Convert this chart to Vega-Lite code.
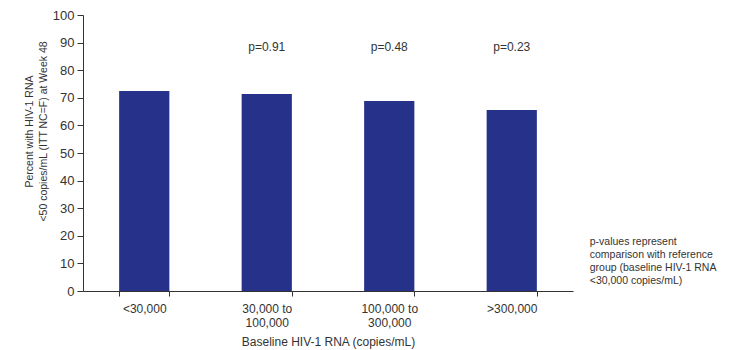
{
  "$schema": "https://vega.github.io/schema/vega-lite/v6.json",
  "autosize": "none",
  "width": 490,
  "height": 276,
  "padding": {"left": 83, "top": 15, "right": 157, "bottom": 59},
  "config": {
    "font": "Liberation Sans",
    "view": {"stroke": null},
    "axis": {"grid": false, "domainColor": "#333", "tickColor": "#333", "labelColor": "#333", "titleColor": "#333", "titleFontWeight": "normal", "labelFont": "Liberation Sans", "titleFont": "Liberation Sans"}
  },
  "data": {
    "values": [
      {"group": "<30,000", "pct": 72.5, "p": ""},
      {"group": "30,000 to|100,000", "pct": 71.4, "p": "p=0.91"},
      {"group": "100,000 to|300,000", "pct": 68.8, "p": "p=0.48"},
      {"group": ">300,000", "pct": 65.6, "p": "p=0.23"}
    ]
  },
  "resolve": {"axis": {"y": "independent"}},
  "encoding": {
    "x": {
      "field": "group",
      "type": "nominal",
      "sort": null,
      "scale": {"paddingInner": 0.59, "paddingOuter": 0.295},
      "axis": {
        "title": "Baseline HIV-1 RNA (copies/mL)",
        "titleFontSize": 12,
        "titlePadding": 8,
        "labelFontSize": 12,
        "labelAngle": 0,
        "labelPadding": 7,
        "labelLineHeight": 14,
        "labelExpr": "split(datum.label, '|')",
        "tickBand": "extent",
        "tickSize": 5
      }
    }
  },
  "layer": [
    {
      "mark": {"type": "bar", "color": "#263189"},
      "encoding": {
        "y": {
          "field": "pct",
          "type": "quantitative",
          "scale": {"domain": [0, 100]},
          "axis": {
            "title": ["Percent with HIV-1 RNA", "<50 copies/mL (ITT NC=F) at Week 48"],
            "titleFontSize": 10.5,
            "titleLineHeight": 14,
            "titleY": 116,
            "titlePadding": 4,
            "labelFontSize": 13,
            "labelPadding": 3,
            "labelOverlap": false,
            "values": [0, 10, 20, 30, 40, 50, 60, 70, 80, 90, 100],
            "tickSize": 6
          }
        }
      }
    },
    {
      "mark": {"type": "text", "fontSize": 12, "color": "#333", "baseline": "middle"},
      "encoding": {
        "y": {"datum": 88.4, "type": "quantitative", "axis": null},
        "text": {"field": "p"}
      }
    },
    {
      "data": {"values": [{"group": ">300,000", "note": "p-values represent\ncomparison with reference\ngroup (baseline HIV-1 RNA\n<30,000 copies/mL)"}]},
      "mark": {"type": "text", "fontSize": 10.5, "color": "#333", "align": "left", "baseline": "top", "dx": 78, "lineBreak": "\n", "lineHeight": 13},
      "encoding": {
        "y": {"datum": 19.5, "type": "quantitative", "axis": null},
        "text": {"field": "note"}
      }
    }
  ]
}
